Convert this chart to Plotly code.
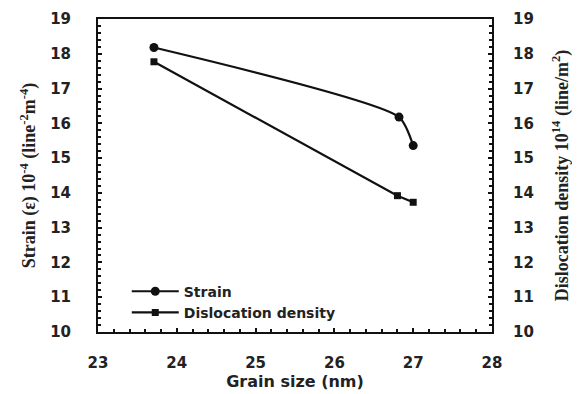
import plotly.graph_objects as go

grain_size_strain = [23.71, 26.82, 27.0]
strain = [18.18, 16.18, 15.36]
grain_size_disloc = [23.71, 26.80, 27.0]
dislocation_density = [17.77, 13.92, 13.73]

x_ticks = [23, 24, 25, 26, 27, 28]
y_ticks = [10, 11, 12, 13, 14, 15, 16, 17, 18, 19]
x_range = [23, 28]
y_range = [10, 19]

ink = "#111111"
clear = "rgba(0,0,0,0)"
tickfont = dict(family="DejaVu Sans", size=15, color="#222222", weight="bold")

fig = go.Figure()
fig.add_trace(go.Scatter(
    x=grain_size_strain, y=strain, name="Strain", mode="lines+markers",
    line=dict(color=ink, width=2.2, shape="spline", smoothing=0.6),
    marker=dict(symbol="circle", size=9, color=ink),
))
fig.add_trace(go.Scatter(
    x=grain_size_disloc, y=dislocation_density, name="Dislocation density",
    mode="lines+markers", yaxis="y2",
    line=dict(color=ink, width=2.2),
    marker=dict(symbol="square", size=7, color=ink),
))
# empty carriers so the label-only axes get drawn
fig.add_trace(go.Scatter(x=[], y=[], xaxis="x3", yaxis="y3", showlegend=False, hoverinfo="skip"))
fig.add_trace(go.Scatter(x=[], y=[], xaxis="x3", yaxis="y4", showlegend=False, hoverinfo="skip"))

frame = dict(showline=True, linecolor=ink, linewidth=2, showgrid=False,
             zeroline=False, ticks="inside", ticklen=4, tickwidth=2,
             tickcolor=ink, showticklabels=False, automargin=False)
labels = dict(showline=False, showgrid=False, zeroline=False, automargin=False,
              ticks="outside", tickcolor=clear, tickfont=tickfont)
minor_x = dict(dtick=0.2, ticks="inside", ticklen=3, tickwidth=2, tickcolor=ink)
minor_y = dict(dtick=0.2, ticks="inside", ticklen=3, tickwidth=2, tickcolor=ink)

fig.update_layout(
    width=572, height=386,
    margin=dict(l=90, r=88, t=11, b=62),
    paper_bgcolor="white", plot_bgcolor="white",
    showlegend=True,
    legend=dict(x=0.073, y=0.18, xanchor="left", yanchor="top",
                bgcolor=clear,
                font=dict(family="DejaVu Sans", size=14, color="#222222", weight="bold"),
                tracegroupgap=0, itemwidth=47),
    xaxis=dict(range=x_range, tickvals=x_ticks, mirror=True, minor=minor_x, **frame),
    yaxis=dict(range=y_range, tickvals=y_ticks, minor=minor_y, **frame),
    yaxis2=dict(range=y_range, tickvals=y_ticks, overlaying="y", side="right",
                minor=minor_y, **frame),
    xaxis3=dict(range=x_range, tickvals=x_ticks, overlaying="x", anchor="y",
                side="bottom", ticklen=17,
                title=dict(text="Grain size (nm)", standoff=4,
                           font=dict(family="DejaVu Sans", size=16, color="#222222", weight="bold")),
                **labels),
    yaxis3=dict(range=y_range, tickvals=y_ticks, overlaying="y", anchor="x",
                side="left", ticklen=23,
                title=dict(text="Strain (ε) 10<sup>-4</sup> (line<sup>-2</sup>m<sup>-4</sup>)",
                           font=dict(family="Liberation Serif", size=18, color="#222222", weight="bold"),
                           standoff=9),
                **labels),
    yaxis4=dict(range=y_range, tickvals=y_ticks, overlaying="y", anchor="x",
                side="right", ticklen=17,
                title=dict(text="Dislocation density 10<sup>14</sup> (line/m<sup>2</sup>)",
                           font=dict(family="Liberation Serif", size=18, color="#222222", weight="bold"),
                           standoff=22),
                **labels),
)

fig.write_html("out.html")
